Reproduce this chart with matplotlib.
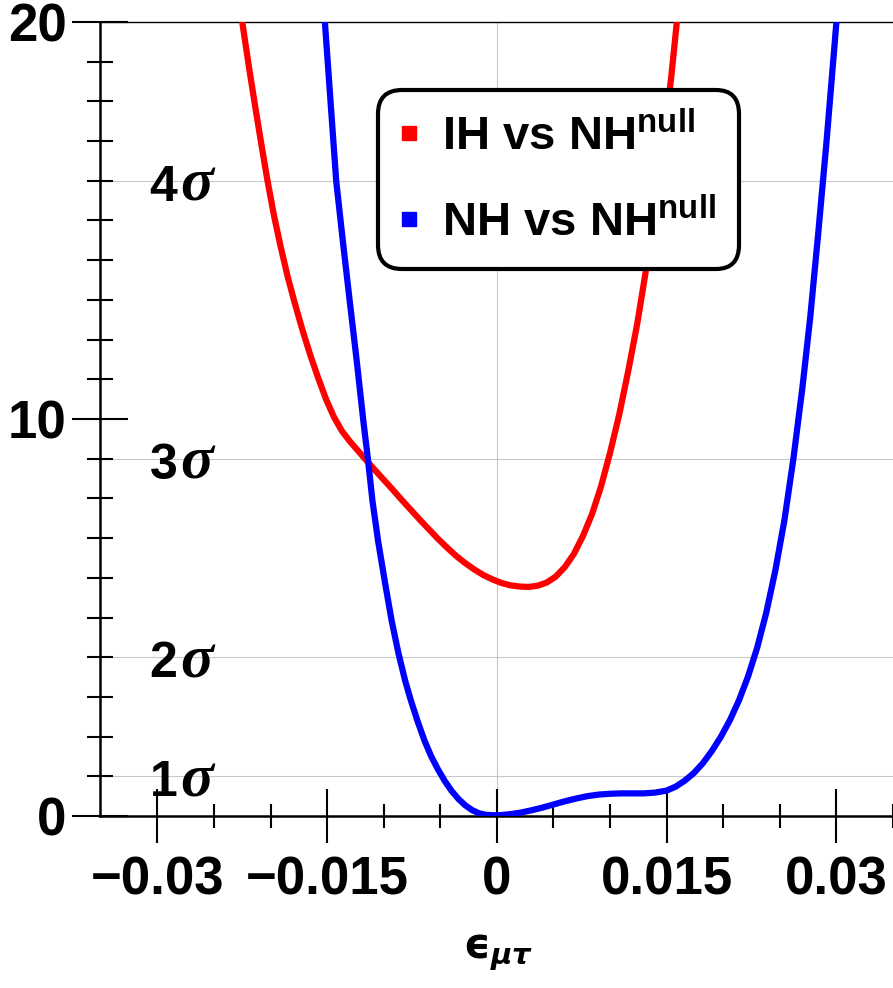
import numpy as np
import matplotlib
matplotlib.use("Agg")
import matplotlib.pyplot as plt
from matplotlib.lines import Line2D

plt.rcParams["font.family"] = ["Liberation Sans", "DejaVu Sans"]
plt.rcParams["font.weight"] = "bold"
plt.rcParams["mathtext.fontset"] = "custom"
plt.rcParams["mathtext.rm"] = "Liberation Sans:bold"
plt.rcParams["mathtext.bf"] = "Liberation Sans:bold"

# Delta chi^2 vs eps_mutau
ih_eps = [-0.0225, -0.0219, -0.0213, -0.0208, -0.0203, -0.0197, -0.0191, -0.0185,
          -0.0179, -0.0172, -0.0165, -0.0158, -0.0151, -0.0144, -0.0137, -0.0130,
          -0.0123, -0.0116, -0.0108, -0.0100, -0.0092, -0.0084, -0.0076, -0.0068,
          -0.0060, -0.0052, -0.0044, -0.0036, -0.0028, -0.0020, -0.0012, -0.0004,
          0.0004, 0.0012, 0.0020, 0.0028, 0.0036, 0.0044, 0.0052, 0.0060,
          0.0068, 0.0076, 0.0084, 0.0092, 0.0100, 0.0108, 0.0116, 0.0124,
          0.0132, 0.0140, 0.0148, 0.0154, 0.0159]
ih_chi2 = [20.0, 18.85, 17.77, 16.9, 16.05, 15.13, 14.33, 13.6,
           12.96, 12.26, 11.62, 11.04, 10.5, 10.05, 9.7, 9.44,
           9.21, 8.98, 8.72, 8.47, 8.22, 7.96, 7.71, 7.46,
           7.22, 6.98, 6.76, 6.55, 6.37, 6.21, 6.07, 5.96,
           5.87, 5.81, 5.78, 5.77, 5.8, 5.88, 6.03, 6.27,
           6.6, 7.05, 7.6, 8.3, 9.15, 10.1, 11.2, 12.4,
           13.8, 15.4, 17.2, 18.6, 20.0]

nh_eps = [-0.0152, -0.0147, -0.0142, -0.0136, -0.0130, -0.0124, -0.0118, -0.0114,
          -0.0110, -0.0105, -0.0099, -0.0093, -0.0087, -0.0081, -0.0076, -0.0070,
          -0.0064, -0.0058, -0.0052, -0.0046, -0.0040, -0.0034, -0.0028, -0.0022,
          -0.0016, -0.0010, -0.0004, 0.0002, 0.0010, 0.0020, 0.0030, 0.0040,
          0.0050, 0.0060, 0.0070, 0.0080, 0.0090, 0.0100, 0.0110, 0.0120,
          0.0130, 0.0140, 0.0150, 0.0158, 0.0166, 0.0174, 0.0182, 0.0190,
          0.0198, 0.0206, 0.0214, 0.0222, 0.0230, 0.0238, 0.0246, 0.0254,
          0.0262, 0.0270, 0.0277, 0.0284, 0.0291, 0.0298, 0.0300]
nh_chi2 = [20.0, 18.0, 16.0, 14.45, 12.96, 11.5, 9.95, 9.0,
           7.95, 6.93, 5.9, 4.92, 4.1, 3.4, 2.91, 2.38,
           1.9, 1.5, 1.17, 0.88, 0.63, 0.43, 0.27, 0.15,
           0.07, 0.03, 0.02, 0.02, 0.04, 0.08, 0.14, 0.21,
           0.29, 0.37, 0.44, 0.50, 0.54, 0.56, 0.57, 0.57,
           0.57, 0.59, 0.64, 0.74, 0.89, 1.08, 1.33, 1.64,
           2.0, 2.42, 2.92, 3.52, 4.24, 5.12, 6.18, 7.44,
           9.0, 10.8, 12.6, 14.7, 16.9, 19.3, 20.0]

sigma_levels = [1, 4, 9, 16]
sigma_labels = ["1", "2", "3", "4"]
xtick_vals = [-0.03, -0.015, 0, 0.015, 0.03]
xtick_labels = ["\u22120.03", "\u22120.015", "0", "0.015", "0.03"]

fig = plt.figure(figsize=(8.93, 9.88), dpi=100)
ax = fig.add_axes([100 / 893, 172 / 988, 793 / 893, 794 / 988])

# sigma grid
for lvl in sigma_levels:
    ax.axhline(lvl, color="#c8c8c8", lw=0.8, zorder=0)
ax.axvline(0, color="#c8c8c8", lw=0.8, zorder=0)

ax.plot(ih_eps, ih_chi2, color="#ff0000", lw=4.5, solid_joinstyle="round", zorder=3)
ax.plot(nh_eps, nh_chi2, color="#0000ff", lw=4.5, solid_joinstyle="round", zorder=3)

# n-sigma labels: bold digit + serif italic sigma, sharing a baseline
for lvl, lab in zip(sigma_levels, sigma_labels):
    ax.text(-0.0307, lvl - 0.5, lab, fontsize=36, fontweight="bold",
            ha="left", va="baseline", zorder=4)
    ax.text(-0.0280, lvl - 0.5, "\u03c3", fontsize=44, fontweight="bold",
            family="Liberation Serif", style="italic",
            ha="left", va="baseline", zorder=4)

ax.set_xlim(-0.03507, 0.0348)
ax.set_ylim(0, 20)

ax.set_xticks(xtick_vals)
ax.set_xticklabels(xtick_labels)
ax.set_xticks(np.arange(-0.03, 0.0351, 0.005), minor=True)
ax.set_yticks([0, 10, 20])
ax.set_yticks(np.arange(1, 20), minor=True)

ax.tick_params(axis="x", which="major", direction="inout", length=39, width=1.5,
               labelsize=38, pad=9)
ax.tick_params(axis="y", which="major", direction="inout", length=40, width=1.5,
               labelsize=38, pad=4)
ax.tick_params(axis="x", which="minor", direction="inout", length=17, width=1.5)
ax.tick_params(axis="y", which="minor", direction="inout", length=19, width=1.5)

ax.spines["left"].set_linewidth(1.8)
ax.spines["bottom"].set_linewidth(1.8)
ax.spines["top"].set_linewidth(1.0)
ax.spines["right"].set_visible(False)

ax.set_xlabel("$\\mathbf{\u03f5}_{\\mathbfit{\\mu\\tau}}$", fontsize=30,
              math_fontfamily="dejavusans", va="center")
ax.xaxis.set_label_coords(0.502, -0.172)

handles = [Line2D([], [], ls="none", marker="s", ms=10, color="#ff0000"),
           Line2D([], [], ls="none", marker="s", ms=10, color="#0000ff")]
labels = [r"IH vs NH$^{\rm null}$", r"NH vs NH$^{\rm null}$"]
leg = ax.legend(handles, labels, loc="upper left", bbox_to_anchor=(0.3506, 0.914),
                prop={"weight": "bold", "size": 34}, frameon=True, fancybox=True,
                edgecolor="black", framealpha=1, handlelength=0.3, handletextpad=0.55,
                labelspacing=0.85, borderpad=0.5, borderaxespad=0)
leg.get_frame().set_linewidth(3)
leg.get_frame().set_boxstyle("round,pad=0,rounding_size=0.5")

fig.savefig("out.png", dpi=100)
